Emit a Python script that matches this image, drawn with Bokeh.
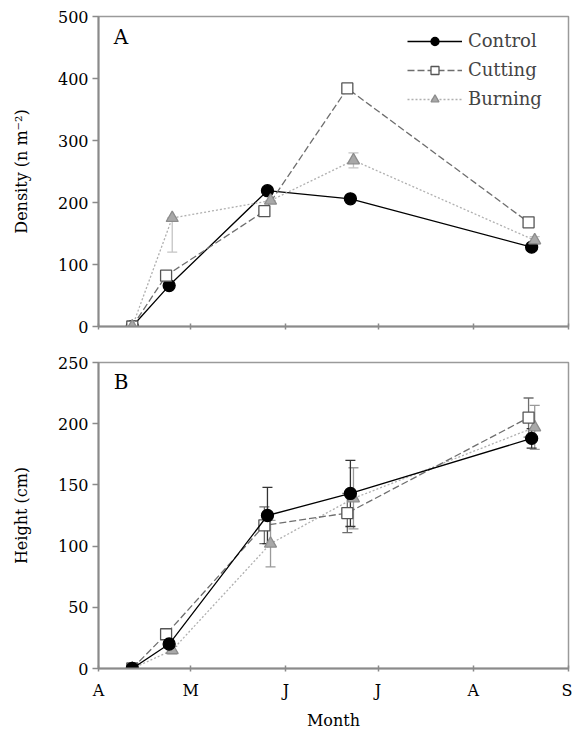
from bokeh.plotting import figure
from bokeh.layouts import column
from bokeh.models import (ColumnDataSource, FixedTicker, Range1d, Legend, LegendItem,
                          Label, Whisker)
from bokeh.embed import file_html
from bokeh.resources import INLINE

# ---------------- data ----------------
month_ticks = [0, 30, 61, 91, 122, 153]          # days since 1 April
month_labels = ["A", "M", "J", "J", "A", "S"]

ctrl_days = [11, 23, 55, 82, 141]
cut_days = [11, 22, 54, 81, 140]
burn_days = [11, 24, 56, 83, 142]

# Panel A: density (n m-2)
ctrl_dens = [0, 66, 219, 206, 128]
cut_dens = [0, 82, 186, 384, 168]
burn_dens = [0, 175, 203, 268, 139]
burn_dens_lo = [0, 55, 0, 12, 6]
burn_dens_hi = [0, 0, 0, 12, 6]

# Panel B: height (cm)
ctrl_h = [0, 20, 125, 143, 188]
ctrl_h_err = [0, 3, 23, 27, 8]
cut_h = [0, 28, 117, 127, 205]
cut_h_err = [0, 3, 15, 16, 16]
burn_h = [0, 15, 102, 139, 197]
burn_h_err = [0, 3, 19, 25, 18]

FONT = "DejaVu Serif"
AXIS_COL = "#8a8a8a"

STYLES = {
    "Control": dict(line_color="black", line_dash="solid", line_width=1.3,
                    marker="circle", size=12, fill_color="black", mk_line="black"),
    "Cutting": dict(line_color="#6e6e6e", line_dash="7 3", line_width=1.3,
                    marker="square", size=11, fill_color="white", mk_line="#555555"),
    "Burning": dict(line_color="#b0b0b0", line_dash="2 2", line_width=1.3,
                    marker="triangle", size=12, fill_color="#a8a8a8", mk_line="#8c8c8c"),
}


def style_fig(p, show_xlabels, ylabel, yticks):
    p.xaxis.ticker = FixedTicker(ticks=month_ticks)
    if show_xlabels:
        p.xaxis.major_label_overrides = {t: l for t, l in zip(month_ticks, month_labels)}
    else:
        p.xaxis.major_label_overrides = {t: "" for t in month_ticks}
    p.yaxis.ticker = FixedTicker(ticks=yticks)
    for ax in (p.xaxis, p.yaxis):
        ax.axis_line_color = AXIS_COL
        ax.axis_line_width = 2
        ax.major_tick_line_color = AXIS_COL
        ax.major_tick_line_width = 1.5
        ax.minor_tick_line_color = None
        ax.major_label_text_font = FONT
        ax.major_label_text_font_size = "16px"
        ax.major_label_text_color = "black"
        ax.axis_label_text_font = FONT
        ax.axis_label_text_font_size = "16px"
        ax.axis_label_text_font_style = "normal"
        ax.axis_label_text_color = "black"
    p.xaxis.major_tick_in = 3
    p.xaxis.major_tick_out = 3
    p.yaxis.major_tick_in = 0
    p.yaxis.major_tick_out = 6
    p.yaxis.major_label_standoff = 4
    p.yaxis.axis_label = ylabel
    p.yaxis.axis_label_standoff = 24
    if show_xlabels:
        p.xaxis.axis_label = "Month"
        p.xaxis.major_label_standoff = 9
        p.xaxis.axis_label_standoff = 8
    else:
        p.xaxis.major_label_standoff = 0
    p.xgrid.visible = False
    p.ygrid.visible = False
    p.outline_line_color = "#9a9a9a"
    p.outline_line_width = 1.5
    p.background_fill_color = "white"
    p.border_fill_color = "white"


def draw_series(p, days, vals, name):
    s = STYLES[name]
    src = ColumnDataSource(dict(x=days, y=vals))
    ln = p.line("x", "y", source=src, line_color=s["line_color"],
                line_dash=s["line_dash"], line_width=s["line_width"])
    mk = p.scatter("x", "y", source=src, marker=s["marker"], size=s["size"],
                   fill_color=s["fill_color"], line_color=s["mk_line"], line_width=1.3)
    return ln, mk


def add_err(p, days, vals, lo, hi, color):
    src = ColumnDataSource(dict(x=days,
                                lower=[v - e for v, e in zip(vals, lo)],
                                upper=[v + e for v, e in zip(vals, hi)]))
    w = Whisker(base="x", lower="lower", upper="upper", source=src,
                line_color=color, line_width=1.3, level="underlay")
    w.upper_head.size = 10
    w.lower_head.size = 10
    w.upper_head.line_color = color
    w.lower_head.line_color = color
    w.upper_head.line_width = 1.3
    w.lower_head.line_width = 1.3
    p.add_layout(w)


# ---------------- panel A ----------------
pa = figure(width=572, height=340, output_backend="svg", toolbar_location=None,
            x_range=Range1d(0, 153), y_range=Range1d(0, 500),
            min_border_left=98, min_border_right=4, min_border_top=16,
            min_border_bottom=14)
style_fig(pa, False, "Density (n m\u207b\u00b2)", [0, 100, 200, 300, 400, 500])

add_err(pa, burn_days, burn_dens, burn_dens_lo, burn_dens_hi, "#c4c4c4")
items = []
for name, d, v in (("Control", ctrl_days, ctrl_dens),
                   ("Cutting", cut_days, cut_dens),
                   ("Burning", burn_days, burn_dens)):
    ln, mk = draw_series(pa, d, v, name)
    items.append(LegendItem(label=name, renderers=[ln, mk]))

leg = Legend(items=items, location=(309, 217))
leg.label_text_font = FONT
leg.label_text_font_size = "18px"
leg.glyph_width = 55
leg.glyph_height = 20
leg.spacing = 8
leg.label_standoff = 6
leg.margin = 0
leg.padding = 0
leg.border_line_color = None
leg.background_fill_alpha = 0
pa.add_layout(leg)

pa.add_layout(Label(x=5, y=448, text="A", text_font=FONT, text_font_size="20px",
                    text_color="black"))

# ---------------- panel B ----------------
pb = figure(width=572, height=399, output_backend="svg", toolbar_location=None,
            x_range=Range1d(0, 153), y_range=Range1d(0, 250),
            min_border_left=98, min_border_right=4, min_border_top=22,
            min_border_bottom=71)
style_fig(pb, True, "Height (cm)", [0, 50, 100, 150, 200, 250])

add_err(pb, burn_days, burn_h, burn_h_err, burn_h_err, "#9a9a9a")
add_err(pb, cut_days, cut_h, cut_h_err, cut_h_err, "#6e6e6e")
add_err(pb, ctrl_days, ctrl_h, ctrl_h_err, ctrl_h_err, "#333333")
draw_series(pb, burn_days, burn_h, "Burning")
draw_series(pb, cut_days, cut_h, "Cutting")
draw_series(pb, ctrl_days, ctrl_h, "Control")

pb.add_layout(Label(x=5, y=224, text="B", text_font=FONT, text_font_size="20px",
                    text_color="black"))

layout = column(pa, pb, spacing=0)
open("out.html", "w").write(file_html(layout, INLINE))
